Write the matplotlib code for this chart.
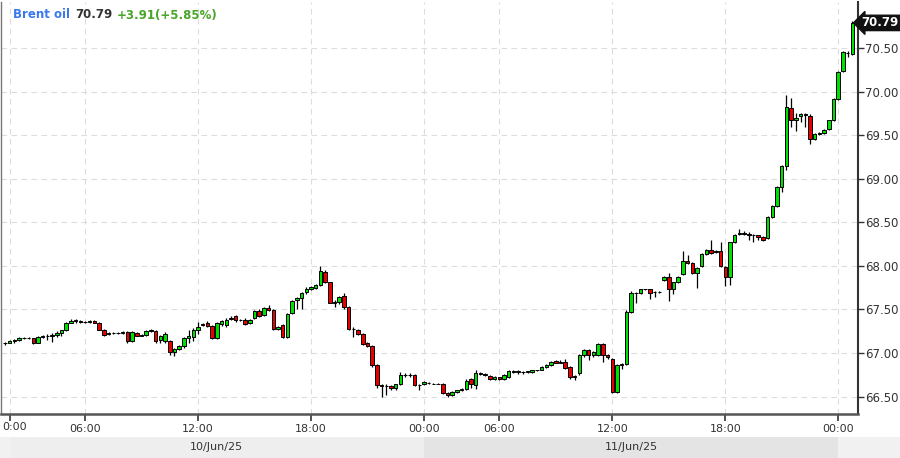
import matplotlib
matplotlib.use("Agg")
import matplotlib.pyplot as plt
import matplotlib.transforms as mtransforms
from matplotlib.patches import Rectangle
import numpy as np

# 15 minute candles, Brent oil, 10-11 Jun 2025
opens = [67.11, 67.12, 67.14, 67.15, 67.17, 67.17, 67.17, 67.12, 67.18, 67.20,
         67.20, 67.21, 67.23, 67.26, 67.35, 67.38, 67.37, 67.36, 67.36, 67.37,
         67.35, 67.27, 67.22, 67.23, 67.23, 67.23, 67.24, 67.14, 67.23, 67.20,
         67.21, 67.25, 67.25, 67.15, 67.14, 67.14, 67.01, 67.05, 67.08, 67.17,
         67.18, 67.27, 67.32, 67.35, 67.31, 67.17, 67.33, 67.32, 67.39, 67.42,
         67.38, 67.38, 67.34, 67.40, 67.48, 67.44, 67.52, 67.49, 67.28, 67.32,
         67.18, 67.46, 67.61, 67.63, 67.70, 67.74, 67.75, 67.78, 67.93, 67.81,
         67.58, 67.59, 67.66, 67.53, 67.28, 67.27, 67.22, 67.11, 67.08, 66.86,
         66.63, 66.62, 66.62, 66.60, 66.64, 66.75, 66.75, 66.75, 66.63, 66.64,
         66.66, 66.65, 66.65, 66.65, 66.54, 66.52, 66.55, 66.57, 66.59, 66.70,
         66.63, 66.77, 66.76, 66.74, 66.70, 66.72, 66.70, 66.72, 66.78, 66.79,
         66.78, 66.78, 66.78, 66.80, 66.81, 66.84, 66.86, 66.91, 66.89, 66.90,
         66.84, 66.73, 66.77, 66.98, 67.04, 66.98, 66.98, 67.10, 66.98, 66.93,
         66.55, 66.86, 66.87, 67.47, 67.69, 67.69, 67.73, 67.73, 67.70, 67.70,
         67.84, 67.87, 67.73, 67.82, 67.91, 68.06, 68.03, 67.92, 68.00, 68.14,
         68.18, 68.16, 68.17, 67.99, 67.87, 68.27, 68.37, 68.38, 68.37, 68.35,
         68.35, 68.33, 68.32, 68.56, 68.69, 68.91, 69.15, 69.81, 69.67, 69.72,
         69.74, 69.72, 69.46, 69.52, 69.53, 69.57, 69.67, 69.92, 70.24, 70.44,
         70.43]
highs = [67.13, 67.15, 67.16, 67.18, 67.18, 67.18, 67.17, 67.19, 67.21, 67.22,
         67.23, 67.25, 67.27, 67.36, 67.39, 67.39, 67.38, 67.37, 67.38, 67.38,
         67.36, 67.28, 67.24, 67.24, 67.24, 67.25, 67.25, 67.25, 67.24, 67.22,
         67.27, 67.28, 67.26, 67.21, 67.24, 67.15, 67.06, 67.09, 67.18, 67.26,
         67.29, 67.36, 67.35, 67.37, 67.32, 67.36, 67.38, 67.40, 67.43, 67.44,
         67.39, 67.40, 67.39, 67.49, 67.50, 67.53, 67.55, 67.51, 67.31, 67.33,
         67.46, 67.61, 67.64, 67.70, 67.76, 67.77, 67.79, 68.00, 67.95, 67.82,
         67.61, 67.66, 67.69, 67.54, 67.30, 67.28, 67.23, 67.13, 67.09, 66.87,
         66.65, 66.64, 66.63, 66.65, 66.78, 66.77, 66.77, 66.76, 66.64, 66.68,
         66.67, 66.66, 66.66, 66.66, 66.55, 66.56, 66.58, 66.60, 66.70, 66.71,
         66.80, 66.78, 66.77, 66.75, 66.74, 66.73, 66.76, 66.81, 66.80, 66.80,
         66.79, 66.79, 66.81, 66.81, 66.85, 66.87, 66.91, 66.92, 66.92, 66.93,
         66.85, 66.75, 66.99, 67.05, 67.05, 67.02, 67.11, 67.11, 66.99, 66.94,
         66.87, 66.88, 67.49, 67.71, 67.70, 67.74, 67.74, 67.74, 67.71, 67.71,
         67.88, 67.92, 67.82, 67.88, 68.17, 68.13, 68.04, 67.99, 68.15, 68.19,
         68.30, 68.18, 68.28, 68.00, 68.28, 68.37, 68.42, 68.40, 68.39, 68.37,
         68.36, 68.34, 68.57, 68.70, 68.92, 69.16, 69.96, 69.93, 69.75, 69.75,
         69.76, 69.74, 69.53, 69.54, 69.57, 69.68, 69.93, 70.24, 70.47, 70.47,
         70.81]
lows = [67.09, 67.11, 67.12, 67.14, 67.16, 67.16, 67.10, 67.11, 67.17, 67.15,
        67.13, 67.18, 67.20, 67.25, 67.34, 67.35, 67.35, 67.35, 67.35, 67.34,
        67.26, 67.20, 67.21, 67.22, 67.22, 67.22, 67.12, 67.13, 67.19, 67.19,
        67.20, 67.24, 67.12, 67.12, 67.12, 66.98, 66.97, 67.04, 67.06, 67.11,
        67.14, 67.22, 67.31, 67.30, 67.16, 67.16, 67.31, 67.30, 67.38, 67.36,
        67.37, 67.32, 67.33, 67.39, 67.41, 67.43, 67.48, 67.27, 67.27, 67.17,
        67.17, 67.45, 67.50, 67.50, 67.68, 67.72, 67.74, 67.77, 67.80, 67.57,
        67.53, 67.56, 67.50, 67.27, 67.18, 67.21, 67.09, 67.07, 66.84, 66.60,
        66.50, 66.52, 66.58, 66.58, 66.63, 66.73, 66.73, 66.62, 66.58, 66.63,
        66.65, 66.64, 66.64, 66.53, 66.49, 66.51, 66.54, 66.56, 66.58, 66.60,
        66.59, 66.75, 66.74, 66.69, 66.69, 66.69, 66.69, 66.71, 66.77, 66.76,
        66.76, 66.77, 66.77, 66.79, 66.80, 66.83, 66.85, 66.88, 66.88, 66.82,
        66.70, 66.69, 66.75, 66.96, 66.92, 66.96, 66.97, 66.90, 66.93, 66.54,
        66.54, 66.82, 66.86, 67.46, 67.57, 67.68, 67.72, 67.62, 67.64, 67.69,
        67.83, 67.60, 67.68, 67.80, 67.90, 68.02, 67.91, 67.75, 67.99, 68.13,
        68.14, 68.15, 67.99, 67.77, 67.78, 68.26, 68.36, 68.36, 68.30, 68.27,
        68.30, 68.29, 68.31, 68.55, 68.68, 68.85, 69.10, 69.60, 69.55, 69.65,
        69.60, 69.40, 69.45, 69.50, 69.52, 69.56, 69.66, 69.91, 70.23, 70.40,
        70.42]
closes = [67.12, 67.14, 67.15, 67.17, 67.17, 67.17, 67.12, 67.18, 67.20, 67.20,
          67.21, 67.23, 67.26, 67.35, 67.37, 67.37, 67.36, 67.36, 67.37, 67.35,
          67.27, 67.21, 67.23, 67.23, 67.23, 67.24, 67.14, 67.24, 67.20, 67.21,
          67.25, 67.26, 67.14, 67.19, 67.22, 67.01, 67.05, 67.08, 67.17, 67.20,
          67.27, 67.30, 67.33, 67.31, 67.17, 67.34, 67.37, 67.38, 67.40, 67.38,
          67.38, 67.33, 67.38, 67.48, 67.42, 67.52, 67.49, 67.28, 67.30, 67.18,
          67.45, 67.60, 67.63, 67.69, 67.74, 67.76, 67.78, 67.94, 67.81, 67.58,
          67.59, 67.64, 67.53, 67.28, 67.28, 67.22, 67.10, 67.08, 66.86, 66.63,
          66.62, 66.62, 66.60, 66.64, 66.75, 66.75, 66.75, 66.63, 66.63, 66.67,
          66.66, 66.65, 66.65, 66.54, 66.52, 66.55, 66.57, 66.59, 66.68, 66.64,
          66.77, 66.76, 66.75, 66.70, 66.72, 66.70, 66.75, 66.79, 66.79, 66.78,
          66.78, 66.79, 66.80, 66.80, 66.84, 66.86, 66.90, 66.89, 66.90, 66.83,
          66.72, 66.74, 66.98, 67.04, 66.98, 67.01, 67.10, 66.98, 66.95, 66.55,
          66.86, 66.87, 67.47, 67.69, 67.69, 67.73, 67.73, 67.69, 67.70, 67.70,
          67.87, 67.73, 67.81, 67.87, 68.06, 68.03, 67.92, 67.98, 68.14, 68.18,
          68.15, 68.17, 68.00, 67.87, 68.27, 68.36, 68.38, 68.37, 68.35, 68.35,
          68.33, 68.30, 68.56, 68.69, 68.91, 69.15, 69.82, 69.67, 69.70, 69.74,
          69.73, 69.46, 69.52, 69.53, 69.56, 69.67, 69.92, 70.23, 70.46, 70.45,
          70.79]

tick_pos = [1, 17, 41, 65, 89, 105, 129, 153, 177]
tick_labels = ["0:00", "06:00", "12:00", "18:00", "00:00", "06:00", "12:00", "18:00", "00:00"]
day_starts = [1, 89]
day_ends = [89, 177]
day_labels = ["10/Jun/25", "11/Jun/25"]
price_ticks = [66.5, 67.0, 67.5, 68.0, 68.5, 69.0, 69.5, 70.0, 70.5]

name = "Brent oil"
last = 70.79
change = "+3.91(+5.85%)"

W, H = 900, 458
fig = plt.figure(figsize=(W / 100, H / 100), dpi=100)
fig.patch.set_facecolor("white")
ax = fig.add_axes([1 / W, 44 / H, 857 / W, 412 / H])

o = np.array(opens)
h = np.array(highs)
l = np.array(lows)
c = np.array(closes)
x = np.arange(len(c))
up = c >= o

# wicks then bodies
ax.vlines(x, l, h, color="black", linewidth=0.9, zorder=2)
ax.bar(x[up], c[up] - o[up], bottom=o[up], width=0.74, color="#00e000",
       edgecolor="black", linewidth=0.7, zorder=3)
ax.bar(x[~up], o[~up] - c[~up], bottom=c[~up], width=0.74, color="#e80000",
       edgecolor="black", linewidth=0.7, zorder=3)

ax.set_xlim(-0.85, 181.2)
ax.set_ylim(66.30, 71.03)

ax.set_xticks(tick_pos)
ax.set_xticklabels([""] + tick_labels[1:])
ax.set_yticks(price_ticks)
ax.set_yticklabels([f"{p:.2f}" for p in price_ticks])
ax.yaxis.tick_right()

ax.grid(True, color="#dcdcdc", linestyle=(0, (5, 4)), linewidth=0.8)
ax.set_axisbelow(True)

ax.spines["top"].set_visible(False)
ax.spines["left"].set_color("#777777")
ax.spines["left"].set_linewidth(1.0)
ax.spines["right"].set_color("#333333")
ax.spines["right"].set_linewidth(1.5)
ax.spines["bottom"].set_color("#555555")
ax.spines["bottom"].set_linewidth(1.8)

ax.tick_params(axis="x", length=5, width=1.2, color="#333333", labelsize=8,
               labelcolor="#333333", pad=2)
ax.tick_params(axis="y", length=4, width=1.0, color="#333333", labelsize=8.5,
               labelcolor="#333333", pad=1, right=True, left=False)

# first time label is only partly visible at the left edge
fig.text(2 / W, 1 - 427 / H, tick_labels[0], ha="left", va="center",
         fontsize=8, color="#333333")

# date band under the time axis
band = mtransforms.blended_transform_factory(ax.transData, fig.transFigure)
fig.patches.append(Rectangle((0, 0), 1, 21 / H, transform=fig.transFigure,
                             facecolor="#f1f1f1", edgecolor="none", zorder=0))
shades = ["#eeeeee", "#e4e4e4"]
for s, e, lab, col in zip(day_starts, day_ends, day_labels, shades):
    fig.patches.append(Rectangle((s, 0), e - s, 21 / H, transform=band,
                                 facecolor=col, edgecolor="none", zorder=1))
    fig.text((s + e) / 2, 11 / H, lab, transform=band, ha="center", va="center",
             fontsize=8, color="#333333")

# last price tag
ax.text(1.004, last, f"{last:.2f}", transform=ax.get_yaxis_transform(),
        ha="left", va="center", fontsize=8.5, fontweight="bold", color="white",
        bbox=dict(boxstyle="larrow,pad=0.1", facecolor="#111111", edgecolor="#111111"),
        clip_on=False, zorder=10)

# header, pieces placed one after another
renderer = fig.canvas.get_renderer()
xpos = 13
for txt, col in [(name, "#3a78ef"), (f"{last:.2f}", "#333333"), (change, "#4aa52a")]:
    t = fig.text(xpos / W, 1 - 15 / H, txt, color=col, fontsize=8.5,
                 fontweight="bold", va="center", ha="left")
    xpos += t.get_window_extent(renderer).width + 5

fig.savefig("out.png", dpi=100)
